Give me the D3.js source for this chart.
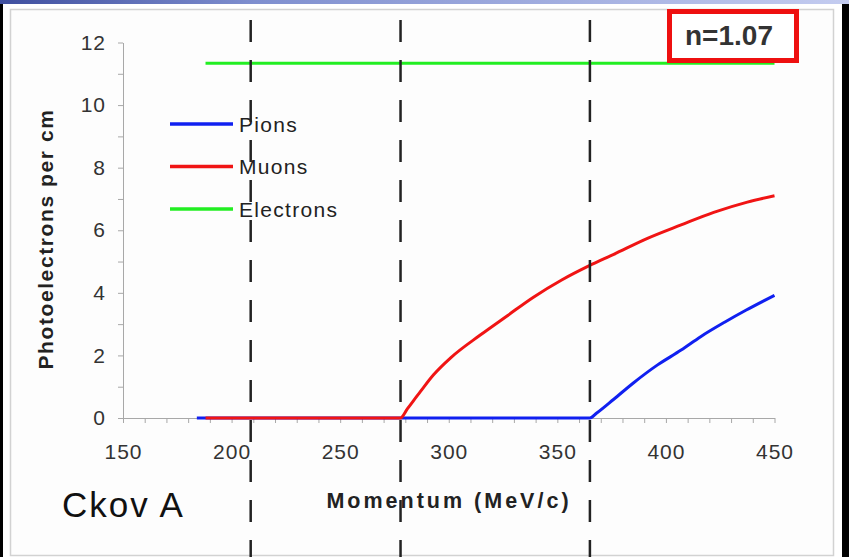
<!DOCTYPE html>
<html><head><meta charset="utf-8">
<script src="https://cdn.jsdelivr.net/npm/d3@7"></script>
<style>body{margin:0;background:#000;overflow:hidden}svg{display:block}</style>
</head><body><svg id="c" width="849" height="557"></svg>
<script>
// ---- data ----
const pionMomentum = [184, 365, 368, 376, 385, 396, 407, 416, 427, 437, 450];
const pionValues   = [0, 0, 0.15, 0.6, 1.12, 1.69, 2.17, 2.6, 3.06, 3.45, 3.92];
const muonMomentum = [188, 277.7, 281, 287, 293, 301, 314.5, 327, 339, 352, 364.5, 376, 391.5, 407, 422, 437.5, 450];
const muonValues   = [0, 0, 0.3, 0.85, 1.38, 1.93, 2.65, 3.27, 3.86, 4.41, 4.86, 5.23, 5.74, 6.17, 6.57, 6.9, 7.1];
const electronMomentum = [188, 450];
const electronValues   = [11.34, 11.34];
const thresholds = [208.8, 277.8, 365];
const xTicks = d3.range(150, 451, 10);
const xTickLabels = [150, 200, 250, 300, 350, 400, 450];
const yTicks = d3.range(0, 13, 1);
const yTickLabels = [0, 2, 4, 6, 8, 10, 12];
const seriesNames = ["Pions", "Muons", "Electrons"];
const seriesColors = ["#1020f0", "#f01414", "#22ee22"];
const indexLabel = "n=1.07";
const detectorLabel = "Ckov A";
const xTitle = "Momentum (MeV/c)";
const yTitle = "Photoelectrons per cm";

const svg = d3.select("#c");
const W = 849, H = 557;

// frame
svg.append("rect").attr("width", W).attr("height", H).attr("fill", "#000");
const defs = svg.append("defs");
const grad = defs.append("linearGradient").attr("id", "topg");
grad.append("stop").attr("offset", "0%").attr("stop-color", "#3f4f9f");
grad.append("stop").attr("offset", "30%").attr("stop-color", "#7f8fcf");
grad.append("stop").attr("offset", "100%").attr("stop-color", "#c4ccf0");
svg.append("rect").attr("x", 0).attr("y", 0).attr("width", W).attr("height", 4).attr("fill", "url(#topg)");
svg.append("rect").attr("x", 3).attr("y", 4).attr("width", 839).attr("height", H - 4).attr("fill", "#ffffff");
svg.append("rect").attr("x", 10.5).attr("y", 9.5).attr("width", 823).attr("height", 546)
  .attr("fill", "#fdfdfd").attr("stroke", "#d2d2d2").attr("stroke-width", 1.5);

const x = d3.scaleLinear().domain([150, 450]).range([123, 774.5]);
const y = d3.scaleLinear().domain([0, 12]).range([418, 42.5]);

// axes
const xAxis = svg.append("g").attr("transform", "translate(0,418)")
  .call(d3.axisBottom(x).tickValues(xTicks).tickSize(5).tickSizeOuter(0).tickPadding(21)
    .tickFormat(d => xTickLabels.includes(d) ? d : ""));
const yAxis = svg.append("g").attr("transform", "translate(123,0)")
  .call(d3.axisLeft(y).tickValues(yTicks).tickSize(5).tickSizeOuter(0).tickPadding(12)
    .tickFormat(d => yTickLabels.includes(d) ? d : ""));
[xAxis, yAxis].forEach(g => {
  g.select(".domain").attr("stroke", "#a8a8a8");
  g.selectAll(".tick line").attr("stroke", "#a8a8a8");
  g.selectAll(".tick text").attr("fill", "#333").style("font-family", "Arial, 'Liberation Sans', sans-serif")
    .style("font-size", "21px").style("letter-spacing", "1px");
});

// series
const line = d3.line().x(d => x(d[0])).y(d => y(d[1])).curve(d3.curveMonotoneX);
const series = [
  [pionMomentum, pionValues, seriesColors[0]],
  [muonMomentum, muonValues, seriesColors[1]],
  [electronMomentum, electronValues, seriesColors[2]]
];
series.forEach(([xs, ys, col]) => {
  svg.append("path").datum(xs.map((v, i) => [v, ys[i]]))
    .attr("d", line).attr("fill", "none").attr("stroke", col)
    .attr("stroke-width", 3).attr("stroke-linejoin", "round");
});

// legend
const lg = svg.append("g");
seriesNames.forEach((name, i) => {
  const ly = 124 + i * 42.5;
  lg.append("line").attr("x1", 170).attr("x2", 233).attr("y1", ly).attr("y2", ly)
    .attr("stroke", seriesColors[i]).attr("stroke-width", 3.5);
  lg.append("text").attr("x", 239).attr("y", ly).attr("dy", "0.36em").text(name)
    .attr("fill", "#222").style("font-family", "Arial, 'Liberation Sans', sans-serif")
    .style("font-size", "21px").style("letter-spacing", "1.3px");
});

// axis titles
svg.append("text").attr("transform", "translate(53,239) rotate(-90)")
  .attr("text-anchor", "middle").text(yTitle).attr("fill", "#222")
  .style("font-family", "Arial, 'Liberation Sans', sans-serif").style("font-weight", "bold")
  .style("font-size", "21px").style("letter-spacing", "1.6px");
svg.append("text").attr("x", 449).attr("y", 508).attr("text-anchor", "middle").text(xTitle)
  .attr("fill", "#222").style("font-family", "Arial, 'Liberation Sans', sans-serif")
  .style("font-weight", "bold").style("font-size", "21.5px").style("letter-spacing", "3px");

// Ckov A
svg.append("text").attr("x", 62).attr("y", 517).text(detectorLabel).attr("fill", "#111")
  .style("font-family", "Arial, 'Liberation Sans', sans-serif").style("font-size", "35px")
  .style("letter-spacing", "2px");

// index box
svg.append("rect").attr("x", 669.5).attr("y", 11.5).attr("width", 127).attr("height", 49)
  .attr("fill", "#fff").attr("stroke", "#ee1010").attr("stroke-width", 5);
svg.append("text").attr("x", 729).attr("y", 45).attr("text-anchor", "middle").text(indexLabel)
  .attr("fill", "#333").style("font-family", "Arial, 'Liberation Sans', sans-serif")
  .style("font-weight", "bold").style("font-size", "28px");

// threshold dashed lines
thresholds.forEach(t => {
  svg.append("line").attr("x1", x(t)).attr("x2", x(t)).attr("y1", 20).attr("y2", H)
    .attr("stroke", "#222").attr("stroke-width", 2.5).attr("stroke-dasharray", "22,18");
});
</script>
</body></html>
